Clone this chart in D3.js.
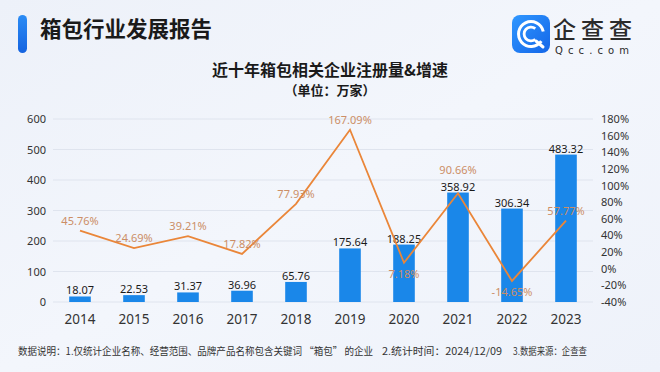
<!DOCTYPE html>
<html><head><meta charset="utf-8">
<script src="https://cdn.jsdelivr.net/npm/d3@7"></script>
<style>
html,body{margin:0;padding:0;width:660px;height:372px;overflow:hidden;}
svg{display:block;font-family:"Noto Sans CJK SC","Noto Sans",sans-serif;}
</style></head>
<body>
<svg id="c" width="660" height="372"></svg>
<script>
const years = ["2014","2015","2016","2017","2018","2019","2020","2021","2022","2023"];
const registrations = [18.07,22.53,31.37,36.96,65.76,175.64,188.25,358.92,306.34,483.32];
const growth = [45.76,24.69,39.21,17.82,77.93,167.09,7.18,90.66,-14.65,57.77];
const leftTicks = [0,100,200,300,400,500,600];
const rightTicks = [-40,-20,0,20,40,60,80,100,120,140,160,180];
const labelPlace = ["above","above","above","above","above","above","below","high","below","above"];
const footnotes = ["数据说明：1.仅统计企业名称、经营范围、品牌产品名称包含关键词 “箱包” 的企业","2.统计时间：2024/12/09","3.数据来源：企查查"];

const svg = d3.select("#c");
const defs = svg.append("defs");
const bg = defs.append("linearGradient").attr("id","bg").attr("x1","0").attr("y1","0").attr("x2","1").attr("y2","1");
bg.append("stop").attr("offset","0").attr("stop-color","#edf1f9");
bg.append("stop").attr("offset","0.5").attr("stop-color","#f3f6fc");
bg.append("stop").attr("offset","1").attr("stop-color","#eef2fa");
const bar = defs.append("linearGradient").attr("id","tb").attr("x1","0").attr("y1","0").attr("x2","0").attr("y2","1");
bar.append("stop").attr("offset","0").attr("stop-color","#2b8cf5");
bar.append("stop").attr("offset","1").attr("stop-color","#1463e0");
const lg = defs.append("linearGradient").attr("id","lg").attr("x1","0").attr("y1","0").attr("x2","1").attr("y2","1");
lg.append("stop").attr("offset","0").attr("stop-color","#2f97ff");
lg.append("stop").attr("offset","1").attr("stop-color","#1466e8");

svg.append("rect").attr("width",660).attr("height",372).attr("fill","url(#bg)");

// header
svg.append("rect").attr("x",18).attr("y",15).attr("width",9).attr("height",38).attr("rx",4.5).attr("fill","url(#tb)");
svg.append("text").attr("x",40).attr("y",37).attr("font-size",21.5).attr("font-weight",700).attr("fill","#1a1a1a").text("箱包行业发展报告");

// logo
const logo = svg.append("g").attr("transform","translate(512,15)");
logo.append("rect").attr("width",38).attr("height",38).attr("rx",8).attr("fill","url(#lg)");
const arc1 = d3.arc()({innerRadius:11,outerRadius:14,startAngle:0.6,endAngle:2*Math.PI-0.2});
const arc2 = d3.arc()({innerRadius:5.5,outerRadius:8.3,startAngle:0.9,endAngle:2*Math.PI-0.9});
logo.append("path").attr("d",arc1).attr("transform","translate(19,19) rotate(90)").attr("fill","#fff");
logo.append("path").attr("d",arc2).attr("transform","translate(19,19) rotate(90)").attr("fill","#fff");
logo.append("path").attr("d","M24,26 L31,32").attr("stroke","#fff").attr("stroke-width",3).attr("stroke-linecap","round");
svg.append("text").attr("x",553).attr("y",38).attr("font-size",23).attr("font-weight",500).attr("fill","#2b2b2b").attr("textLength",79).text("企查查");
svg.append("text").attr("x",555).attr("y",54).attr("font-size",10).attr("fill","#2b2b2b").attr("font-family","DejaVu Sans").attr("textLength",74).text("Qcc.com");

// titles
svg.append("text").attr("x",330).attr("y",76).attr("text-anchor","middle").attr("font-size",16).attr("font-weight",700).attr("fill","#1a1a1a").text("近十年箱包相关企业注册量&增速");
svg.append("text").attr("x",330).attr("y",95).attr("text-anchor","middle").attr("font-size",13).attr("font-weight",700).attr("fill","#1a1a1a").text("（单位：万家）");

// scales
const x = d3.scaleBand().domain(years).range([53,593]).paddingInner(0.6).paddingOuter(0.3);
const yL = d3.scaleLinear().domain([0,600]).range([302,119]);
const yR = d3.scaleLinear().domain([-40,180]).range([302,119]);

// grid
svg.append("g").selectAll("line").data(leftTicks).join("line")
  .attr("x1",53).attr("x2",593).attr("y1",d=>yL(d)).attr("y2",d=>yL(d))
  .attr("stroke","#dfe4ee").attr("stroke-width",1);

// axes
const axL = svg.append("g").attr("transform","translate(53,0)").call(d3.axisLeft(yL).tickValues(leftTicks).tickSize(0).tickPadding(7));
const axR = svg.append("g").attr("transform","translate(593,0)").call(d3.axisRight(yR).tickValues(rightTicks).tickFormat(d=>d+"%").tickSize(0).tickPadding(8));
const axB = svg.append("g").attr("transform","translate(0,302)").call(d3.axisBottom(x).tickSize(0).tickPadding(12));
[axL,axR,axB].forEach(a=>{a.select(".domain").remove();a.selectAll("text").attr("fill","#333").attr("font-family","Noto Sans, sans-serif");});
axL.selectAll("text").attr("font-size",11);
axR.selectAll("text").attr("font-size",11);
axB.selectAll("text").attr("font-size",13.5);

// bars
svg.append("g").selectAll("rect").data(registrations).join("rect")
  .attr("x",(d,i)=>x(years[i])).attr("width",x.bandwidth())
  .attr("y",d=>yL(d)).attr("height",d=>yL(0)-yL(d)).attr("fill","#1a87e9");
svg.append("g").selectAll("text").data(registrations).join("text")
  .attr("x",(d,i)=>x(years[i])+x.bandwidth()/2).attr("y",d=>yL(d)-2)
  .attr("text-anchor","middle").attr("font-size",11).attr("fill","#1a1a1a").attr("font-family","Noto Sans, sans-serif")
  .text(d=>d.toFixed(2));

// line
const cx = (i)=>x(years[i])+x.bandwidth()/2;
svg.append("path").datum(growth)
  .attr("d",d3.line().x((d,i)=>cx(i)).y(d=>yR(d)))
  .attr("fill","none").attr("stroke","#ea8639").attr("stroke-width",1.8);
const off = {above:-6, below:15, high:-19};
svg.append("g").selectAll("text").data(growth).join("text")
  .attr("x",(d,i)=>cx(i)).attr("y",(d,i)=>yR(d)+off[labelPlace[i]])
  .attr("text-anchor","middle").attr("font-size",11).attr("fill","#cc8e66").attr("font-family","Noto Sans, sans-serif")
  .text(d=>d.toFixed(2)+"%");

// footer
const fx = [18,382,513];
const fw = [355,120,74];
svg.append("g").selectAll("text").data(footnotes).join("text")
  .attr("x",(d,i)=>fx[i]).attr("y",355).attr("font-size",9.7).attr("fill","#333")
  .attr("textLength",(d,i)=>fw[i]).attr("lengthAdjust","spacingAndGlyphs")
  .text(d=>d);
</script>
</body></html>
